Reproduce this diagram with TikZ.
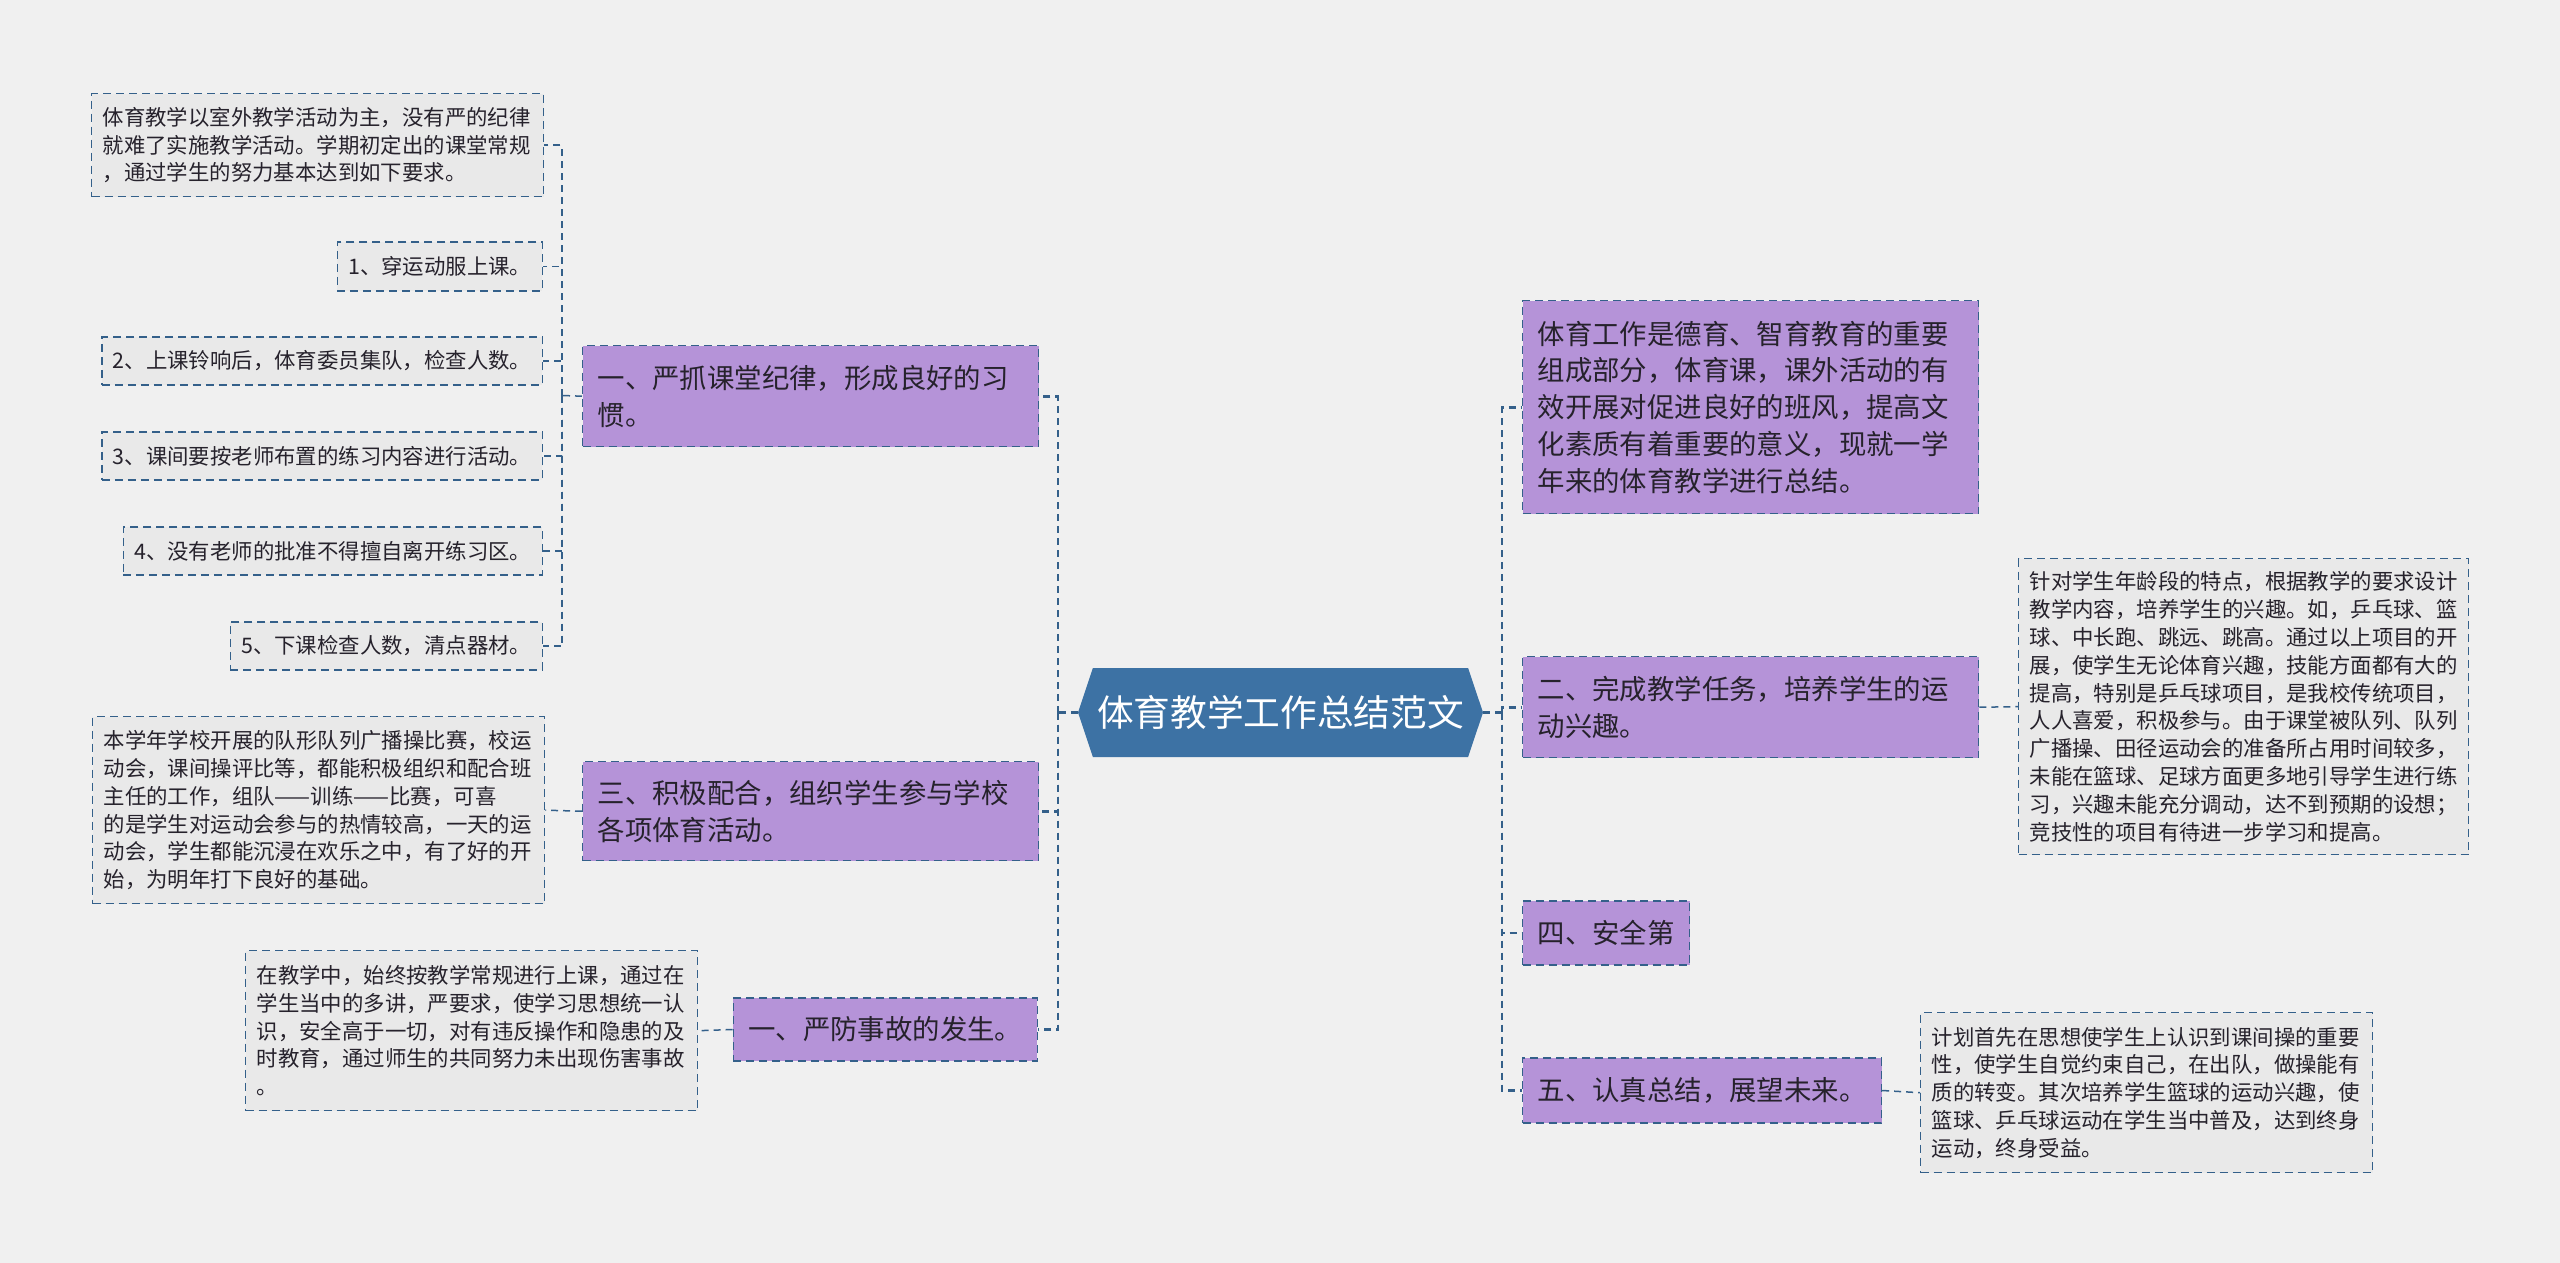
\documentclass[tikz,border=0pt]{standalone}
\usepackage{fontspec}
\setmainfont{Noto Sans CJK SC}
\usepackage{tikz}
\usetikzlibrary{
	positioning,
	shapes.symbols
}
\definecolor{PageGrey}{RGB}{240,240,240}
\definecolor{LeafGrey}{RGB}{233,233,233}
\definecolor{BranchPurple}{RGB}{181,147,216}
\definecolor{RootBlue}{RGB}{61,114,164}
\definecolor{LinkBlue}{RGB}{52,96,138}
\definecolor{InkDark}{RGB}{38,34,44}

\begin{document}
\begin{tikzpicture}[
	x=1pt,
	y=-1pt,
	leaf/.style={
		draw=LinkBlue,
		fill=LeafGrey,
		dash pattern=on 8pt off 5pt,
		line width=1.4pt,
		inner xsep=11pt,
		inner ysep=4pt,
		align=left,
		text=InkDark,
		font=\fontsize{21.4pt}{27.8pt}\selectfont
	},
	branch/.style={
		draw=LinkBlue,
		fill=BranchPurple,
		dash pattern=on 8pt off 5pt,
		line width=1.4pt,
		inner xsep=15pt,
		inner ysep=4pt,
		align=left,
		text=InkDark,
		font=\fontsize{27.4pt}{36.7pt}\selectfont
	},
	trunk/.style={
		draw=LinkBlue,
		dash pattern=on 7pt off 5pt,
		line width=2.8pt
	},
	link/.style={
		draw=LinkBlue,
		dash pattern=on 7pt off 5pt,
		line width=1.5pt
	}
	]
	
	\fill[PageGrey] (0,0) rectangle (2560,1263);
	\useasboundingbox (0,0) rectangle (2560,1263);
	
	\node[
	shape=signal,
	signal to=west and east,
	signal pointer angle=143,
	fill=RootBlue,
	text=white,
	minimum width=405pt,
	minimum height=89pt,
	inner xsep=4pt,
	font=\fontsize{36.7pt}{44pt}\selectfont
	] (root) at (1280.5,712.5) {体育教学工作总结范文};
	
	% left branches
	\node[
	branch,
	anchor=north west,
	text width=426pt,
	minimum height=101pt
	] (L1) at (582,345) {一、严抓课堂纪律，形成良好的习\\惯。};
	
	\node[
	branch,
	anchor=north west,
	text width=426pt,
	minimum height=99pt
	] (L3) at (582,761) {三、积极配合，组织学生参与学校\\各项体育活动。};
	
	\node[
	branch,
	anchor=east,
	minimum height=63pt
	] (L4) at (1038,1029.5) {一、严防事故的发生。};
	
	% right branches
	\node[
	branch,
	anchor=north west,
	text width=426pt,
	minimum height=213pt
	] (R1) at (1522,300) {体育工作是德育、智育教育的重要\\组成部分，体育课，课外活动的有\\效开展对促进良好的班风，提高文\\化素质有着重要的意义，现就一学\\年来的体育教学进行总结。};
	
	\node[
	branch,
	anchor=north west,
	text width=426pt,
	minimum height=101pt
	] (R2) at (1522,656) {二、完成教学任务，培养学生的运\\动兴趣。};
	
	\node[
	branch,
	anchor=west,
	minimum height=64pt
	] (R4) at (1522,933) {四、安全第};
	
	\node[
	branch,
	anchor=west,
	minimum height=65pt
	] (R5) at (1522,1090.5) {五、认真总结，展望未来。};
	
	% leaves
	\node[
	leaf,
	anchor=north west,
	text width=430pt,
	minimum height=103pt
	] (intro) at (91,93) {体育教学以室外教学活动为主，没有严的纪律\\就难了实施教学活动。学期初定出的课堂常规\\，通过学生的努力基本达到如下要求。};
	
	\node[leaf, anchor=east, minimum height=49pt] (rule1) at (543,266.5) {1、穿运动服上课。};
	\node[leaf, anchor=east, minimum height=48pt] (rule2) at (543,361) {2、上课铃响后，体育委员集队，检查人数。};
	\node[leaf, anchor=east, minimum height=48pt] (rule3) at (543,456) {3、课间要按老师布置的练习内容进行活动。};
	\node[leaf, anchor=east, minimum height=48pt] (rule4) at (543,551) {4、没有老师的批准不得擅自离开练习区。};
	\node[leaf, anchor=east, minimum height=48pt] (rule5) at (543,646) {5、下课检查人数，清点器材。};
	
	\node[
	leaf,
	anchor=north west,
	text width=430pt,
	minimum height=187pt
	] (games) at (92,716) {本学年学校开展的队形队列广播操比赛，校运\\动会，课间操评比等，都能积极组织和配合班\\主任的工作，组队——训练——比赛，可喜\\的是学生对运动会参与的热情较高，一天的运\\动会，学生都能沉浸在欢乐之中，有了好的开\\始，为明年打下良好的基础。};
	
	\node[
	leaf,
	anchor=north west,
	text width=430pt,
	minimum height=160pt
	] (safety) at (245,950) {在教学中，始终按教学常规进行上课，通过在\\学生当中的多讲，严要求，使学习思想统一认\\识，安全高于一切，对有违反操作和隐患的及\\时教育，通过师生的共同努力未出现伤害事故\\。};
	
	\node[
	leaf,
	anchor=north west,
	text width=428pt,
	minimum height=296pt
	] (tasks) at (2018,558) {针对学生年龄段的特点，根据教学的要求设计\\教学内容，培养学生的兴趣。如，乒乓球、篮\\球、中长跑、跳远、跳高。通过以上项目的开\\展，使学生无论体育兴趣，技能方面都有大的\\提高，特别是乒乓球项目，是我校传统项目，\\人人喜爱，积极参与。由于课堂被队列、队列\\广播操、田径运动会的准备所占用时间较多，\\未能在篮球、足球方面更多地引导学生进行练\\习，兴趣未能充分调动，达不到预期的设想；\\竞技性的项目有待进一步学习和提高。};
	
	\node[
	leaf,
	anchor=north west,
	text width=430pt,
	minimum height=160pt
	] (plan) at (1920,1012) {计划首先在思想使学生上认识到课间操的重要\\性，使学生自觉约束自己，在出队，做操能有\\质的转变。其次培养学生篮球的运动兴趣，使\\篮球、乒乓球运动在学生当中普及，达到终身\\运动，终身受益。};
	
	% connectors
	\coordinate (lt) at (1058,712.5);
	\coordinate (rt) at (1502,712.5);
	\coordinate (lsub) at (562,395.5);
	
	\draw[trunk] (root.west) -- (lt);
	\draw[trunk] (lt) |- (L1.east);
	\draw[trunk] (lt) |- (L3.east);
	\draw[trunk] (lt) |- (L4.east);
	
	\draw[trunk] (root.east) -- (rt);
	\draw[trunk] (rt) |- (R1.west);
	\draw[trunk] (rt) |- (R2.west);
	\draw[trunk] (rt) |- (R4.west);
	\draw[trunk] (rt) |- (R5.west);
	
	\draw[link] (L1.west) -- (lsub);
	\foreach \leafname in {intro,rule1,rule2,rule3,rule4,rule5}
	\draw[link] (lsub) |- (\leafname.east);
	
	\draw[link] (L3.west) -- (games.east);
	\draw[link] (L4.west) -- (safety.east);
	\draw[link] (R2.east) -- (tasks.west);
	\draw[link] (R5.east) -- (plan.west);
	
\end{tikzpicture}
\end{document}
